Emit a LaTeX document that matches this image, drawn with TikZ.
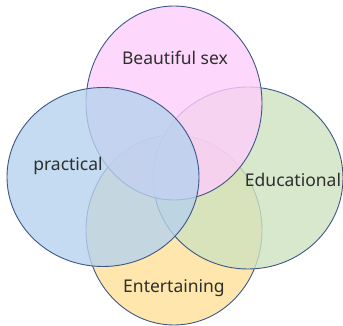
\documentclass[tikz,border=0pt]{standalone}
\usepackage{fontspec}
\setmainfont{Noto Sans}
\usepackage{tikz}
\usetikzlibrary{shapes}
\definecolor{sexpink}{HTML}{FECEFB}
\definecolor{practblue}{HTML}{B6D2ED}
\definecolor{edugreen}{HTML}{CEE2BF}
\definecolor{entyellow}{HTML}{FFE097}
\definecolor{rim}{HTML}{3D5789}
\tikzstyle{venn} = [draw=rim, line width=0.9pt, shape=ellipse, inner sep=0pt, fill opacity=0.8]
\tikzstyle{lbl} = [text=black!82, font=\fontsize{17.5}{19}\selectfont, inner sep=0pt]

\begin{document}
\begin{tikzpicture}[x=1pt,y=-1pt]
    \useasboundingbox (0,0) rectangle (343,326);
    \begin{scope}
      \node[venn, fill=entyellow, minimum width=176pt, minimum height=190pt] (ent) at (174,230) {};
      \node[venn, fill=edugreen, minimum width=190pt, minimum height=182pt] (edu) at (248,178) {};
      \node[venn, fill=sexpink, minimum width=176pt, minimum height=194pt] (sex) at (174,103) {};
      \node[venn, fill=practblue, minimum width=192pt, minimum height=179pt] (pra) at (103,177) {};
      \node[lbl] (sexlbl) at (175,58) {Beautiful sex};
      \node[lbl] (pralbl) at (68,166) {practical};
      \node[lbl] (edulbl) at (293,180) {Educational};
      \node[lbl] (entlbl) at (174,288) {Entertaining};
    \end{scope}
  \end{tikzpicture}
\end{document}
